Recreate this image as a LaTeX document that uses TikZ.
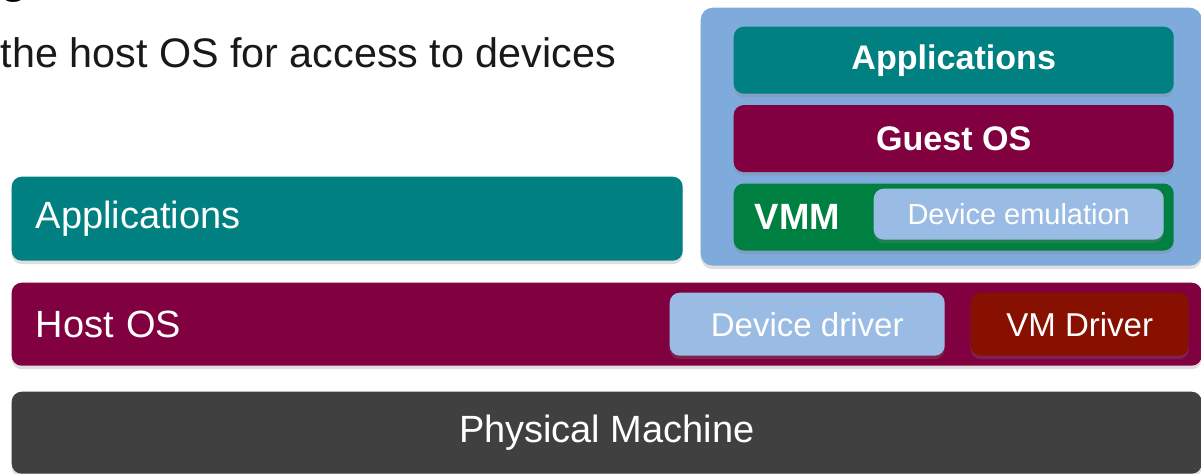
\documentclass[tikz,border=0pt]{standalone}
\usepackage{fontspec}
\setmainfont{Liberation Sans}
\usetikzlibrary{positioning,shadows}

\definecolor{appteal}{RGB}{0,128,128}
\definecolor{osmaroon}{RGB}{128,0,64}
\definecolor{vmmgreen}{RGB}{0,128,64}
\definecolor{vmblue}{RGB}{127,170,220}
\definecolor{devblue}{RGB}{153,187,228}
\definecolor{drvred}{RGB}{136,16,0}
\definecolor{hwgray}{RGB}{64,64,64}

\begin{document}
\begin{tikzpicture}[
    x=0.1mm, y=-0.1mm,
    node distance=1mm,
    softshadow/.style={
        drop shadow={shadow xshift=0mm, shadow yshift=-0.35mm, opacity=0.25}
    },
    layer/.style={
        rectangle,
        rounded corners=1mm,
        inner sep=0pt,
        anchor=north west,
        text=white,
        softshadow
    },
    hostlayer/.style={
        layer,
        font=\fontsize{10.8}{13}\selectfont,
        align=left,
        inner xsep=2.4mm
    },
    guestlayer/.style={
        layer,
        font=\bfseries\fontsize{9.7}{12}\selectfont,
        minimum width=44mm,
        minimum height=6.7mm
    },
    chip/.style={
        layer,
        font=\fontsize{9.4}{11}\selectfont,
        minimum height=6.3mm
    }
]
\useasboundingbox (0,0) rectangle (1201,474);

% slide text above the stacks
\node[anchor=base, inner sep=0pt, font=\fontsize{15}{18}\selectfont] (titletail) at (14,-8) {g};
\node[anchor=base west, inner sep=0pt, font=\fontsize{11.75}{14}\selectfont, text=black!90] (caption) at (0,68) {the host OS for access to devices};

% virtual machine
\node[layer, fill=vmblue, rounded corners=1.2mm, minimum width=50.1mm, minimum height=25.8mm] (vm) at (700,7) {};
\node[guestlayer, fill=appteal] (guestapps) at (733,26) {Applications};
\node[guestlayer, fill=osmaroon, below=of guestapps] (guestos) {Guest OS};
\node[guestlayer, fill=vmmgreen, below=of guestos, text width=39.8mm, inner xsep=2.1mm, align=left,
      font=\bfseries\fontsize{10.4}{12}\selectfont] (vmm) {VMM};
\node[layer, fill=devblue, minimum width=29mm, minimum height=5.1mm, font=\fontsize{8.25}{10}\selectfont] (devemu) at (873,188) {Device emulation};

% host side
\node[hostlayer, fill=appteal, text width=62.3mm, minimum height=8.4mm] (apps) at (11,176) {Applications};
\node[hostlayer, fill=osmaroon, text width=114.2mm, minimum height=8.3mm] (hostos) at (11,282) {Host OS};
\node[chip, fill=devblue, minimum width=27.5mm] (devdriver) at (669,292) {Device driver};
\node[chip, fill=drvred, minimum width=21.8mm] (vmdriver) at (970,292) {VM Driver};

% hardware
\node[layer, fill=hwgray, minimum width=119mm, minimum height=8.2mm, font=\fontsize{10.8}{13}\selectfont] (hw) at (11,391) {Physical Machine};

\end{tikzpicture}
\end{document}
